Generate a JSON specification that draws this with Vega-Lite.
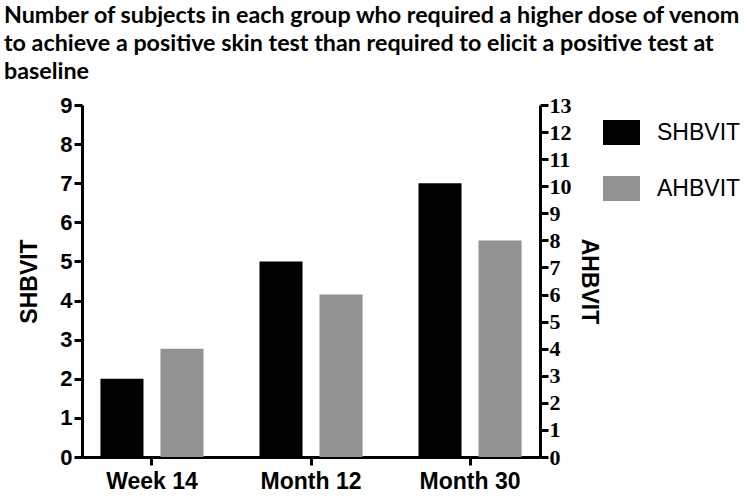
{
  "$schema": "https://vega.github.io/schema/vega-lite/v6.json",
  "width": 458,
  "height": 352,
  "autosize": {"type": "none"},
  "padding": {"left": 82, "top": 105, "right": 207, "bottom": 43},
  "background": "white",
  "title": {
    "text": ["Number of subjects in each group who required a higher dose of venom", "to achieve a positive skin test than required to elicit a positive test at", "baseline"],
    "anchor": "start",
    "frame": "group",
    "font": "Lato",
    "fontWeight": "bold",
    "fontSize": 23.3,
    "lineHeight": 28,
    "color": "black",
    "dx": -78,
    "offset": 10
  },
  "data": {
    "values": [
      {"time": "Week 14", "group": "SHBVIT", "value": 2},
      {"time": "Month 12", "group": "SHBVIT", "value": 5},
      {"time": "Month 30", "group": "SHBVIT", "value": 7},
      {"time": "Week 14", "group": "AHBVIT", "value": 4},
      {"time": "Month 12", "group": "AHBVIT", "value": 6},
      {"time": "Month 30", "group": "AHBVIT", "value": 8}
    ]
  },
  "config": {
    "view": {"stroke": null},
    "axis": {
      "grid": false,
      "domainColor": "black",
      "domainWidth": 3,
      "tickColor": "black",
      "tickWidth": 3,
      "tickSize": 8,
      "labelColor": "black",
      "labelFont": "Liberation Sans",
      "labelFontWeight": "bold",
      "labelFontSize": 22,
      "titleColor": "black",
      "titleFont": "Liberation Sans",
      "titleFontWeight": "bold",
      "titleFontSize": 23
    }
  },
  "layer": [
    {
      "transform": [{"filter": "datum.group === 'SHBVIT'"}],
      "mark": {"type": "bar"},
      "encoding": {
        "x": {
          "field": "time", "type": "nominal",
          "sort": ["Week 14", "Month 12", "Month 30"],
          "scale": {"paddingInner": 0.352, "paddingOuter": 0.116},
          "axis": {"title": null, "labelAngle": 0, "labelPadding": 5, "labelFontSize": 23}
        },
        "xOffset": {
          "field": "group", "type": "nominal",
          "scale": {"domain": ["SHBVIT", "AHBVIT"], "paddingInner": 0.283, "paddingOuter": 0}
        },
        "y": {
          "field": "value", "type": "quantitative",
          "scale": {"domain": [0, 9], "nice": false},
          "axis": {"orient": "left", "title": "SHBVIT", "values": [0,1,2,3,4,5,6,7,8,9], "labelPadding": 2, "titlePadding": 18}
        },
        "color": {
          "field": "group", "type": "nominal",
          "scale": {"domain": ["SHBVIT", "AHBVIT"], "range": ["#000000", "#929292"]},
          "legend": {
            "orient": "none",
            "legendX": 521,
            "legendY": 9,
            "title": null,
            "symbolType": "M-1,-0.676H1V0.676H-1Z",
            "symbolSize": 1369,
            "symbolStrokeWidth": 0,
            "symbolOpacity": 1,
            "labelFont": "Liberation Sans",
            "labelFontSize": 23,
            "labelColor": "black",
            "labelOffset": 17,
            "rowPadding": 24
          }
        }
      }
    },
    {
      "transform": [{"filter": "datum.group === 'AHBVIT'"}],
      "mark": {"type": "bar"},
      "encoding": {
        "x": {"field": "time", "type": "nominal", "sort": ["Week 14", "Month 12", "Month 30"]},
        "xOffset": {"field": "group", "type": "nominal"},
        "y": {
          "field": "value", "type": "quantitative",
          "scale": {"domain": [0, 13], "nice": false},
          "axis": {"orient": "right", "title": "AHBVIT", "values": [0,1,2,3,4,5,6,7,8,9,10,11,12,13], "labelPadding": 1, "titlePadding": 5, "labelFont": "Liberation Sans Narrow", "labelFontSize": 22}
        },
        "color": {"field": "group", "type": "nominal"}
      }
    }
  ],
  "resolve": {"scale": {"y": "independent"}, "axis": {"y": "independent"}}
}
